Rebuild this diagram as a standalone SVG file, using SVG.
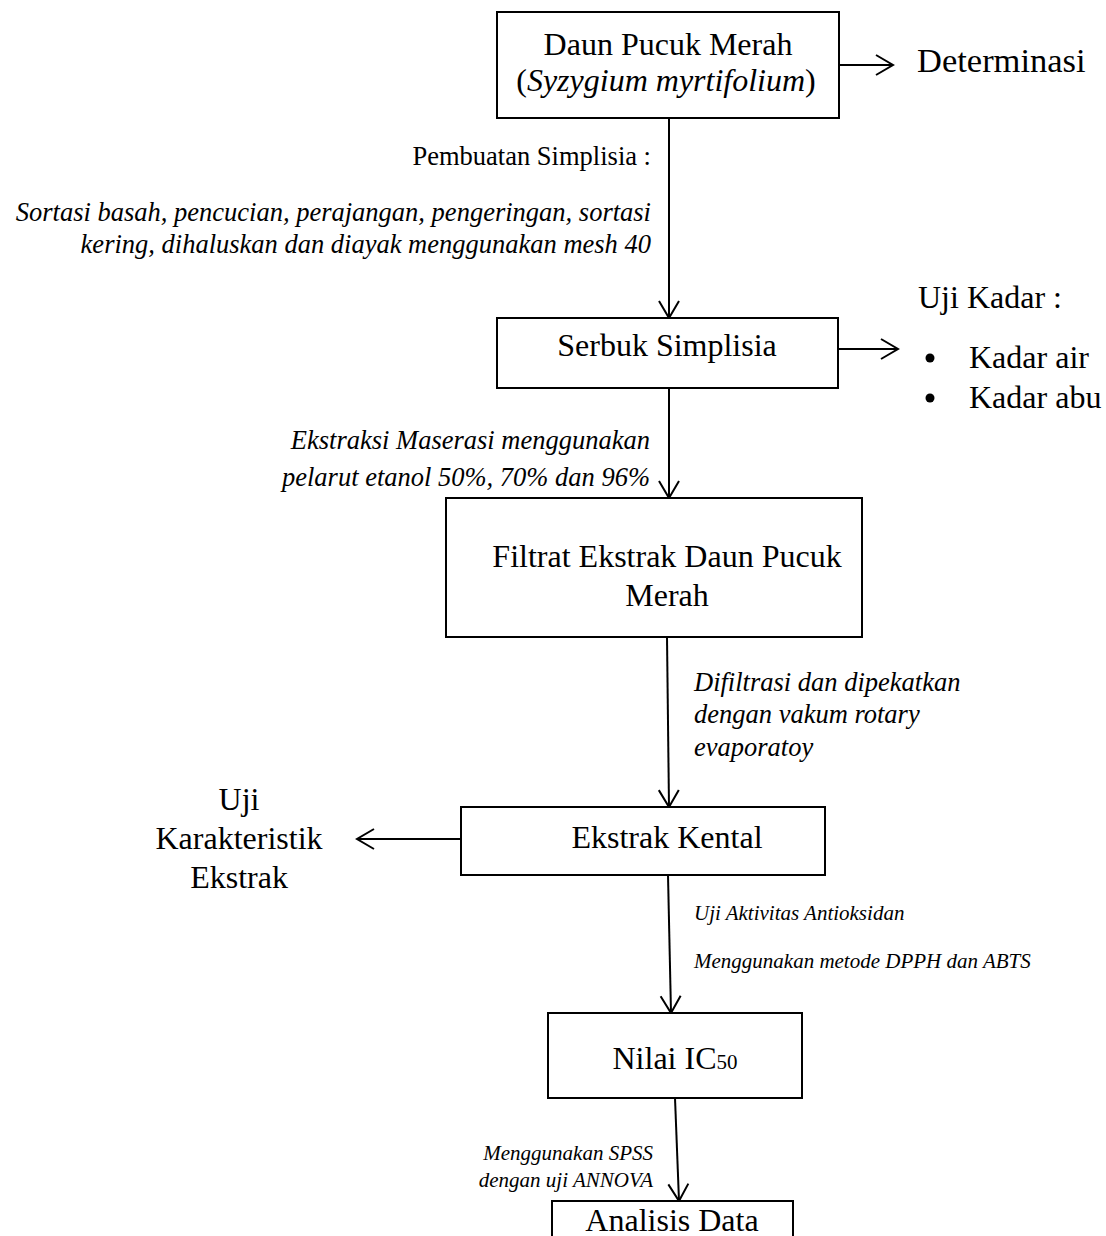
<svg xmlns="http://www.w3.org/2000/svg" width="1106" height="1236" viewBox="0 0 1106 1236">
<style>
.box{fill:#fff;stroke:#000;stroke-width:2}
.ln{fill:none;stroke:#000;stroke-width:2;marker-end:url(#ah)}
.t{font-family:"Liberation Serif","Times New Roman",serif;font-size:32px;fill:#000}
.c{font-family:"Liberation Serif","Times New Roman",serif;font-size:26.5px;fill:#000}
.ci{font-family:"Liberation Serif","Times New Roman",serif;font-size:26.5px;font-style:italic;fill:#000}
.si{font-family:"Liberation Serif","Times New Roman",serif;font-size:21px;font-style:italic;fill:#000}
.m{text-anchor:middle}
.e{text-anchor:end}
</style>
<defs>
<marker id="ah" viewBox="-19 -12 21 24" markerWidth="21" markerHeight="24" refX="0" refY="0" markerUnits="userSpaceOnUse" orient="auto">
<path d="M-17,-10 L0,0 L-17,10" fill="none" stroke="#000" stroke-width="2"/>
</marker>
</defs>
<rect width="1106" height="1236" fill="#fff"/>
<g id="connectors">
<line class="ln" x1="839" y1="65" x2="893" y2="65"/>
<line class="ln" x1="669" y1="118" x2="669" y2="318"/>
<line class="ln" x1="838" y1="349" x2="898" y2="349"/>
<line class="ln" x1="669" y1="388" x2="669" y2="498"/>
<line class="ln" x1="667" y1="637" x2="669" y2="807"/>
<line class="ln" x1="461" y1="839" x2="357" y2="839"/>
<line class="ln" x1="668" y1="875" x2="671" y2="1013"/>
<line class="ln" x1="675" y1="1098" x2="679" y2="1201"/>
</g>
<g id="node-daun">
<rect class="box" x="497" y="12" width="342" height="106"/>
<text class="t m" x="668" y="55">Daun Pucuk Merah</text>
<text class="t m" x="666" y="91">(<tspan font-style="italic">Syzygium myrtifolium</tspan>)</text>
</g>
<g id="node-determinasi">
<text class="t" x="917" y="72" style="font-size:34.5px">Determinasi</text>
</g>
<g id="label-pembuatan">
<text class="c e" x="651" y="165">Pembuatan Simplisia :</text>
<text class="ci e" x="651" y="221">Sortasi basah, pencucian, perajangan, pengeringan, sortasi</text>
<text class="ci e" x="651" y="253">kering, dihaluskan dan diayak menggunakan mesh 40</text>
</g>
<g id="node-serbuk">
<rect class="box" x="497" y="318" width="341" height="70"/>
<text class="t m" x="667" y="356">Serbuk Simplisia</text>
</g>
<g id="node-ujikadar">
<text class="t" x="918" y="308">Uji Kadar :</text>
<circle cx="930" cy="358" r="4.5" fill="#000"/>
<text class="t" x="969" y="368">Kadar air</text>
<circle cx="930" cy="398" r="4.5" fill="#000"/>
<text class="t" x="969" y="408">Kadar abu</text>
</g>
<g id="label-ekstraksi">
<text class="ci e" x="650" y="449">Ekstraksi Maserasi menggunakan</text>
<text class="ci e" x="650" y="486">pelarut etanol 50%, 70% dan 96%</text>
</g>
<g id="node-filtrat">
<rect class="box" x="446" y="498" width="416" height="139"/>
<text class="t m" x="667" y="567">Filtrat Ekstrak Daun Pucuk</text>
<text class="t m" x="667" y="606">Merah</text>
</g>
<g id="label-difiltrasi">
<text class="ci" x="694" y="691">Difiltrasi dan dipekatkan</text>
<text class="ci" x="694" y="723">dengan vakum rotary</text>
<text class="ci" x="694" y="756">evaporatoy</text>
</g>
<g id="node-kental">
<rect class="box" x="461" y="807" width="364" height="68"/>
<text class="t m" x="667" y="848">Ekstrak Kental</text>
</g>
<g id="node-karakteristik">
<text class="t m" x="239" y="810">Uji</text>
<text class="t m" x="239" y="849">Karakteristik</text>
<text class="t m" x="239" y="888">Ekstrak</text>
</g>
<g id="label-antioksidan">
<text class="si" x="694" y="920">Uji Aktivitas Antioksidan</text>
<text class="si" x="694" y="968">Menggunakan metode DPPH dan ABTS</text>
</g>
<g id="node-nilai">
<rect class="box" x="548" y="1013" width="254" height="85"/>
<text class="t m" x="675" y="1069">Nilai IC<tspan font-size="21px">50</tspan></text>
</g>
<g id="label-spss">
<text class="si e" x="653" y="1160">Menggunakan SPSS</text>
<text class="si e" x="653" y="1187">dengan uji ANNOVA</text>
</g>
<g id="node-analisis">
<rect class="box" x="552" y="1201" width="241" height="60"/>
<text class="t m" x="672" y="1231">Analisis Data</text>
</g>
</svg>
